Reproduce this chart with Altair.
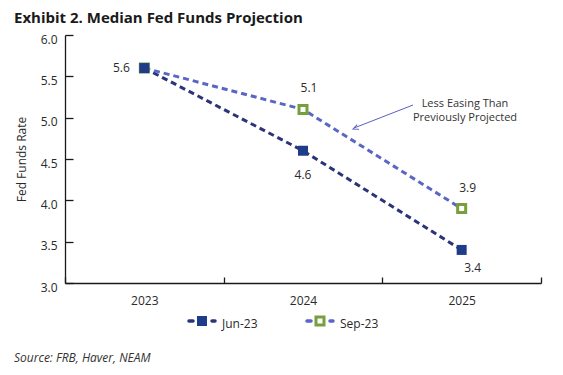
import altair as alt
import pandas as pd

# ---- data ----
years = ["2023", "2024", "2025"]
jun23 = [5.6, 4.6, 3.4]
sep23 = [5.6, 5.1, 3.9]
series_names = ["Jun-23", "Sep-23"]
y_ticks = [3.0, 3.5, 4.0, 4.5, 5.0, 5.5, 6.0]
title_text = "Exhibit 2. Median Fed Funds Projection"
source_text = "Source: FRB, Haver, NEAM"
note_lines = ["Less Easing Than", "Previously Projected"]
y_title = "Fed Funds Rate"

df = pd.DataFrame({
    "year": years * 2,
    "value": jun23 + sep23,
    "series": [series_names[0]] * len(years) + [series_names[1]] * len(years),
})

# ---- styles ----
FONT = "Open Sans"
TXT = "#2a2a2a"
AXIS_C = "#1a1a1a"
JUN_LINE = "#2b3478"
JUN_MARK = "#1f3c8a"
SEP_LINE = "#5a66c4"
SEP_MARK = "#76a03c"
ARROW_C = "#5b5fc4"

x_enc = alt.X(
    "year:N",
    scale=alt.Scale(domain=years, paddingInner=0, paddingOuter=0),
    axis=alt.Axis(
        title=None, tickBand="extent", labelAngle=0,
        tickSize=alt.ExprRef(expr="-6"), labelPadding=18,
        labelFontSize=12, labelFontWeight="normal", labelFont=FONT, labelColor=TXT,
        domainColor=AXIS_C, tickColor=AXIS_C, domainWidth=1.3, tickWidth=1.3, grid=False,
    ),
)
y_enc = alt.Y(
    "value:Q",
    scale=alt.Scale(domain=[3, 6], nice=False, zero=False),
    axis=alt.Axis(
        values=y_ticks, format=".1f", title=y_title, titleFontSize=12, titleFont=FONT,
        titleFontWeight="normal", titleColor=TXT, titlePadding=12,
        tickSize=alt.ExprRef(expr="-8"), labelPadding=16, labelOffset=4,
        labelFontSize=12, labelFontWeight="normal", labelFont=FONT, labelColor=TXT,
        domainColor=AXIS_C, tickColor=AXIS_C, domainWidth=1.3, tickWidth=1.3, grid=False,
    ),
)

base = alt.Chart(df).encode(x=x_enc, y=y_enc)

lines = base.mark_line(strokeWidth=3, strokeDash=[6, 4]).encode(
    color=alt.Color("series:N", scale=alt.Scale(domain=series_names, range=[JUN_LINE, SEP_LINE]), legend=None),
    detail="series:N",
)

sep_pts = base.transform_filter(alt.datum.series == series_names[1]).mark_point(
    shape="square", size=64, filled=True, fill="white", stroke=SEP_MARK, strokeWidth=3, opacity=1
)
jun_pts = base.transform_filter(alt.datum.series == series_names[0]).mark_point(
    shape="square", size=100, filled=True, fill=JUN_MARK, stroke=None, opacity=1
)

def lab(filter_expr, dx, dy):
    return base.transform_filter(filter_expr).mark_text(
        font=FONT, fontSize=12, color=TXT, dx=dx, dy=dy, align="center", baseline="middle"
    ).encode(text=alt.Text("value:Q", format=".1f"))

lab_jun_first = lab((alt.datum.series == series_names[0]) & (alt.datum.year == years[0]), -23, 0)
lab_sep = lab((alt.datum.series == series_names[1]) & (alt.datum.year != years[0]), 6, -21)
lab_jun_mid = lab((alt.datum.series == series_names[0]) & (alt.datum.year == years[1]), 0, 24)
lab_jun_last = lab((alt.datum.series == series_names[0]) & (alt.datum.year == years[2]), 11, 18)

# ---- annotation ----
one = pd.DataFrame({"k": [0]})
arrow_line = alt.Chart(one).mark_rule(color=ARROW_C, strokeWidth=1).encode(
    x=alt.value(348), y=alt.value(70), x2=alt.value(289), y2=alt.value(93)
)
arrow_head = alt.Chart(one).mark_point(
    shape="M-0.45,1L0,0L0.45,1", filled=False, stroke=ARROW_C, strokeWidth=1, size=120, angle=248, opacity=1
).encode(x=alt.value(288), y=alt.value(94))
note = alt.Chart(one).mark_text(
    text=note_lines, font=FONT, fontSize=11, color="#333333", align="center", baseline="alphabetic", lineHeight=14
).encode(x=alt.value(400), y=alt.value(72))

# ---- title / source ----
title_df = pd.DataFrame({"t": [title_text]})
title = alt.Chart(title_df).mark_text(
    font=FONT, fontSize=15, fontWeight="bold", color="#1a1a1a", align="left", baseline="alphabetic"
).encode(text="t:N", x=alt.value(-51), y=alt.value(-12))
src_df = pd.DataFrame({"t": [source_text]})
source = alt.Chart(src_df).mark_text(
    font=FONT, fontSize=12, fontStyle="italic", color="#333333", align="left", baseline="alphabetic"
).encode(text="t:N", x=alt.value(-51), y=alt.value(327))

# ---- legend ----
leg_jun_df = pd.DataFrame({"t": [series_names[0]]})
leg_sep_df = pd.DataFrame({"t": [series_names[1]]})

def legend_item(d, x0, line_c, square_layer_kwargs):
    dash = alt.Chart(d).mark_rule(
        color=line_c, strokeWidth=3.5, strokeDash=[4, 19], strokeCap="round"
    ).encode(x=alt.value(x0 + 2), x2=alt.value(x0 + 28), y=alt.value(286))
    sq = alt.Chart(d).mark_point(shape="square", opacity=1, **square_layer_kwargs).encode(
        x=alt.value(x0 + 15), y=alt.value(286)
    )
    txt = alt.Chart(d).mark_text(
        font=FONT, fontSize=12, color=TXT, align="left", baseline="middle"
    ).encode(text="t:N", x=alt.value(x0 + 35), y=alt.value(289))
    return [dash, sq, txt]

leg_layers = legend_item(leg_jun_df, 122, JUN_LINE, dict(size=100, filled=True, fill=JUN_MARK, stroke=None)) + \
    legend_item(leg_sep_df, 240, SEP_LINE, dict(size=64, filled=True, fill="white", stroke=SEP_MARK, strokeWidth=3))

chart = alt.layer(
    lines, sep_pts, jun_pts,
    lab_jun_first, lab_sep, lab_jun_mid, lab_jun_last,
    arrow_line, arrow_head, note, title, source, *leg_layers,
).properties(
    width=476, height=248,
    background="white",
    autosize=alt.AutoSizeParams(type="none"),
    padding={"left": 57, "top": 27, "right": 14, "bottom": 84},
).configure_view(stroke=None)

chart.save("out.html", embed_options={"renderer": "svg", "actions": False})
